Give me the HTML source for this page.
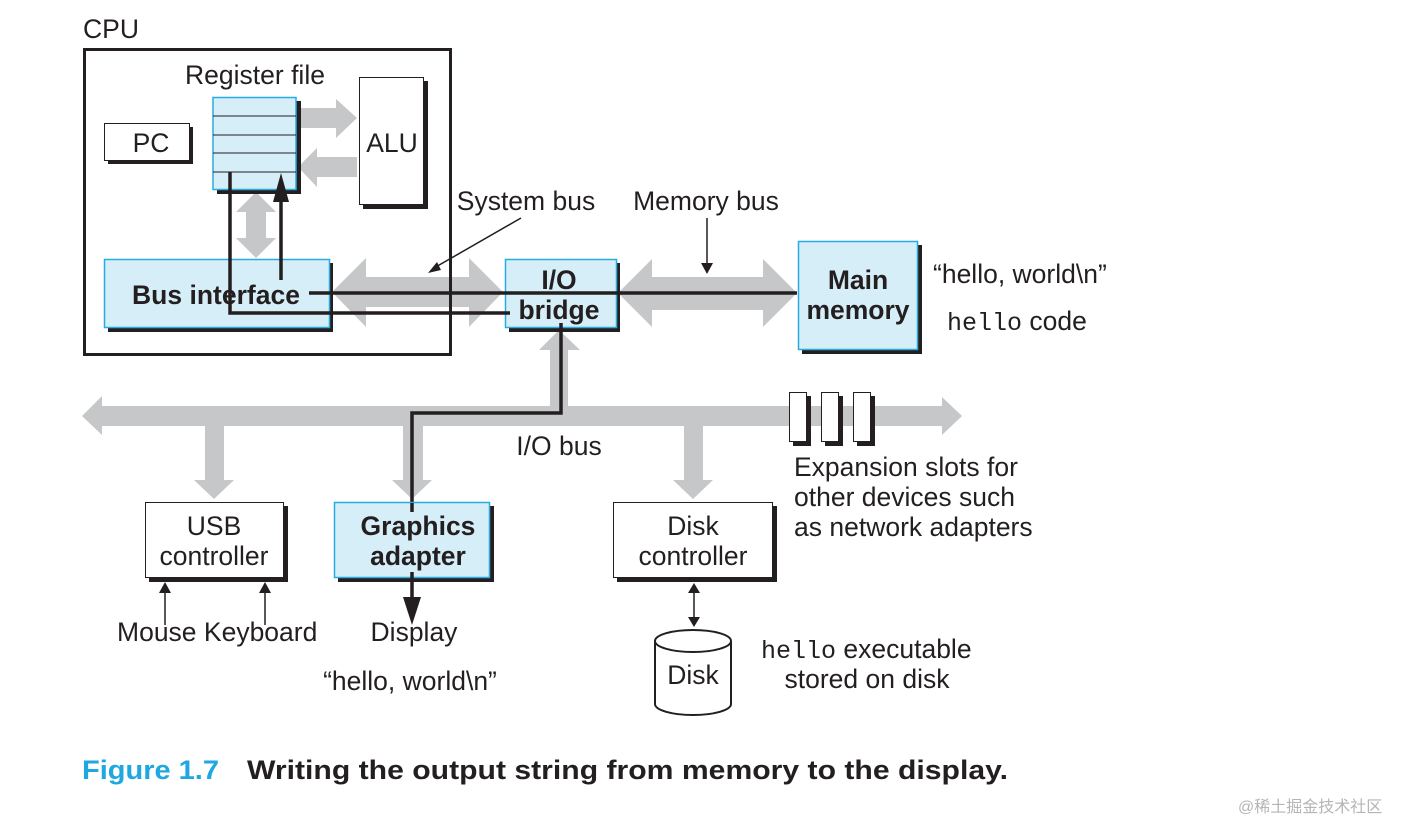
<!DOCTYPE html>
<html><head><meta charset="utf-8"><style>
html,body{margin:0;padding:0;background:#fff;}
svg{display:block;}
text{font-family:"Liberation Sans",Arial,sans-serif;fill:#231f20;font-size:26.5px;}
.b{font-weight:bold;}
.m{font-family:"Liberation Mono",monospace;font-size:25px;}
</style></head><body>
<svg width="1421" height="839" viewBox="0 0 1421 839" xmlns="http://www.w3.org/2000/svg">
<g fill="#c6c7c8">
  <polygon points="296,108 336,108 336,99 357,118 336,138 336,128 296,128"/>
  <polygon points="357,157 317,157 317,148 298,167 317,187 317,177 357,177"/>
  <polygon points="256,192 276,212 266,212 266,238 276,238 256,258 236,238 246,238 246,212 236,212"/>
  <polygon points="332,292 366,258 366,277 469,277 469,258 503,292 469,327 469,307 366,307 366,327"/>
  <polygon points="618,293 652,259 652,277 763,277 763,259 797,293 763,327 763,310 652,310 652,327"/>
  <polygon points="82,416 102,396 102,406 942,406 942,397 962,416 942,435 942,426 102,426 102,435"/>
  <polygon points="550,410 550,350 539,350 559,330 580,350 568,350 568,410"/>
  <polygon points="205,424 224,424 224,480 234,480 214,499 194,480 205,480"/>
  <polygon points="403,424 423,424 423,480 432,480 412,499 392,480 403,480"/>
  <polygon points="684,424 703,424 703,480 713,480 693,499 673,480 684,480"/>
</g>
<rect x="84.5" y="49.5" width="366" height="305" fill="none" stroke="#231f20" stroke-width="3"/>
<text x="83" y="38">CPU</text>
<text x="255" y="84" text-anchor="middle">Register file</text>
<rect x="108" y="127" width="85" height="37" fill="#231f20"/>
<rect x="104.5" y="123.5" width="85" height="37" fill="#fff" stroke="#231f20" stroke-width="1"/>
<text x="151" y="152" text-anchor="middle">PC</text>
<rect x="217" y="101" width="84" height="93" fill="#231f20"/>
<rect x="213" y="97.5" width="83" height="92" fill="#d6eef8" stroke="#29abe2" stroke-width="1.5"/>
<g stroke="#231f20" stroke-width="1"><line x1="213" y1="116" x2="296" y2="116"/><line x1="213" y1="135" x2="296" y2="135"/><line x1="213" y1="153" x2="296" y2="153"/><line x1="213" y1="172" x2="296" y2="172"/></g>
<rect x="363" y="81" width="65" height="128" fill="#231f20"/>
<rect x="359.5" y="77.5" width="64" height="127" fill="#fff" stroke="#231f20" stroke-width="1"/>
<text x="392" y="152" text-anchor="middle">ALU</text>
<rect x="108" y="263" width="225" height="69" fill="#231f20"/>
<rect x="104.5" y="259.5" width="225" height="68" fill="#d6eef8" stroke="#29abe2" stroke-width="1.5"/>
<text x="216" y="304" class="b" text-anchor="middle">Bus interface</text>
<rect x="509" y="263" width="111" height="69" fill="#231f20"/>
<rect x="505.5" y="259.5" width="111" height="68" fill="#d6eef8" stroke="#29abe2" stroke-width="1.5"/>
<text x="559" y="289" class="b" text-anchor="middle">I/O</text>
<text x="559" y="319" class="b" text-anchor="middle">bridge</text>
<rect x="802" y="245" width="120" height="109" fill="#231f20"/>
<rect x="798.5" y="241.5" width="119" height="108" fill="#d6eef8" stroke="#29abe2" stroke-width="1.5"/>
<text x="858" y="289" class="b" text-anchor="middle">Main</text>
<text x="858" y="319" class="b" text-anchor="middle">memory</text>
<g stroke="#231f20" stroke-width="3.5" fill="none">
  <polyline points="230,172 230,313 510,313"/>
  <line x1="281" y1="280" x2="281" y2="198"/>
  <line x1="309" y1="293" x2="797" y2="293"/>
  <polyline points="561,323 561,413 412,413 412,600"/>
</g>
<polygon points="273,202 289,202 281,173" fill="#231f20"/>
<polygon points="403,597 421,597 412,625" fill="#231f20"/>
<g stroke="#231f20" stroke-width="1.5" fill="none">
  <line x1="521" y1="218" x2="434" y2="268"/>
  <line x1="707" y1="218" x2="707" y2="264"/>
  <line x1="165" y1="625" x2="165" y2="592"/>
  <line x1="265" y1="625" x2="265" y2="592"/>
  <line x1="694" y1="592" x2="694" y2="618"/>
</g>
<polygon points="428,273 437,262 441,270" fill="#231f20"/>
<polygon points="701,263 713,263 707,274" fill="#231f20"/>
<polygon points="159,593 171,593 165,582" fill="#231f20"/>
<polygon points="259,593 271,593 265,582" fill="#231f20"/>
<polygon points="688,593 700,593 694,583" fill="#231f20"/>
<polygon points="688,617 700,617 694,627" fill="#231f20"/>
<text x="526" y="210" text-anchor="middle">System bus</text>
<text x="706" y="210" text-anchor="middle">Memory bus</text>
<text x="933" y="283">“hello, world\n”</text>
<text x="947" y="330"><tspan class="m">hello</tspan> code</text>
<g fill="#231f20"><rect x="793" y="396" width="18" height="50"/><rect x="825" y="396" width="18" height="50"/><rect x="857" y="396" width="18" height="50"/></g>
<g fill="#fff" stroke="#231f20" stroke-width="1"><rect x="789.5" y="392.5" width="17" height="49"/><rect x="821.5" y="392.5" width="17" height="49"/><rect x="853.5" y="392.5" width="17" height="49"/></g>
<text x="559" y="455" text-anchor="middle">I/O bus</text>
<text x="794" y="476">Expansion slots for</text>
<text x="794" y="506">other devices such</text>
<text x="794" y="536">as network adapters</text>
<rect x="149" y="506" width="139" height="76" fill="#231f20"/>
<rect x="145.5" y="502.5" width="138" height="75" fill="#fff" stroke="#231f20" stroke-width="1"/>
<text x="214" y="535" text-anchor="middle">USB</text>
<text x="214" y="565" text-anchor="middle">controller</text>
<rect x="338" y="506" width="156" height="76" fill="#231f20"/>
<rect x="334.5" y="502.5" width="155" height="75" fill="#d6eef8" stroke="#29abe2" stroke-width="1.5"/>
<line x1="412" y1="503" x2="412" y2="512" stroke="#231f20" stroke-width="3.5"/>
<text x="418" y="535" class="b" text-anchor="middle">Graphics</text>
<text x="418" y="565" class="b" text-anchor="middle">adapter</text>
<line x1="412" y1="572" x2="412" y2="580" stroke="#231f20" stroke-width="3.5"/>
<rect x="617" y="506" width="160" height="76" fill="#231f20"/>
<rect x="613.5" y="502.5" width="159" height="75" fill="#fff" stroke="#231f20" stroke-width="1"/>
<text x="693" y="535" text-anchor="middle">Disk</text>
<text x="693" y="565" text-anchor="middle">controller</text>
<path d="M655,641 L655,704 A38,11 0 0 0 731,704 L731,641" fill="#fff" stroke="#231f20" stroke-width="2"/>
<ellipse cx="693" cy="641" rx="38" ry="11" fill="#fff" stroke="#231f20" stroke-width="2"/>
<text x="693" y="684" text-anchor="middle">Disk</text>
<text x="761" y="658"><tspan class="m">hello</tspan> executable</text>
<text x="867" y="688" text-anchor="middle">stored on disk</text>
<text x="117" y="641">Mouse Keyboard</text>
<text x="414" y="641" text-anchor="middle">Display</text>
<text x="410" y="690" text-anchor="middle">“hello, world\n”</text>
<text x="82" y="779" style="font-size:27px;font-weight:bold;fill:#1ea7e0" textLength="137" lengthAdjust="spacingAndGlyphs">Figure 1.7</text>
<text x="247" y="779" style="font-size:27px;font-weight:bold" textLength="761" lengthAdjust="spacingAndGlyphs">Writing the output string from memory to the display.</text>
<text x="1238" y="812" style="font-size:16px;fill:#b5b5b5;font-family:'Liberation Sans','Noto Sans CJK SC',sans-serif">@稀土掘金技术社区</text>
</svg>
</body></html>
